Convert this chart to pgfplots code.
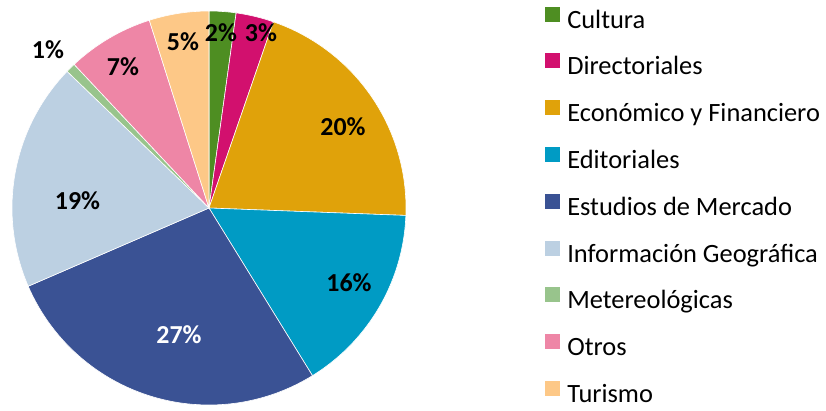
\documentclass[border=0pt]{standalone}
\usepackage{fontspec}
\setmainfont{Carlito}
\usepackage{pgfplots}
\pgfplotsset{compat=1.18}
\definecolor{cCul}{HTML}{4E8E22}
\definecolor{cDir}{HTML}{D2106E}
\definecolor{cEco}{HTML}{E0A20A}
\definecolor{cEdi}{HTML}{009BC4}
\definecolor{cEst}{HTML}{3A5294}
\definecolor{cInf}{HTML}{BCD0E2}
\definecolor{cMet}{HTML}{98C48C}
\definecolor{cOtr}{HTML}{EE86A6}
\definecolor{cTur}{HTML}{FDC887}
% shares in percent (clockwise from 12 o'clock), cumulative start values
% Cultura 2.2, Directoriales 3.1, Economico 20.3, Editoriales 15.6,
% Estudios 27.3, Informacion 18.7, Metereologicas 0.8, Otros 7.1, Turismo 4.9
\newcommand{\slice}[3]{% color, start%, value%
  \addplot[fill=#1, draw=white, line width=0.6pt, domain={90-3.6*(#2+#3)}:{90-3.6*#2}, samples=60, variable=\t]
    ({209+197*cos(\t)},{-208+197*sin(\t)}) -- (axis cs:209,-208) -- cycle;}
\begin{document}
\begin{tikzpicture}
\begin{axis}[
  x=1bp, y=1bp, xmin=0, xmax=826, ymin=-410, ymax=0,
  hide axis, clip=false,
  legend cell align=left,
  legend image code/.code={\fill[#1,draw=none] (0bp,0.5bp) rectangle (15bp,15.5bp); \path (22bp,0bp);},
  legend style={at={(0.6598,0.9840)}, anchor=north west, draw=none, fill=none,
    inner sep=0pt, outer sep=0pt, row sep=20.3bp,
    font=\fontsize{26.5}{30}\selectfont,
    nodes={inner sep=0pt, text height=17bp, text depth=5bp}},
]
\slice{cCul}{0}{2.2}
\slice{cDir}{2.2}{3.1}
\slice{cEco}{5.3}{20.3}
\slice{cEdi}{25.6}{15.6}
\slice{cEst}{41.2}{27.3}
\slice{cInf}{68.5}{18.7}
\slice{cMet}{87.2}{0.8}
\slice{cOtr}{88.0}{7.1}
\slice{cTur}{95.1}{4.9}
\legend{Cultura, Directoriales, Económico y Financiero, Editoriales, Estudios de Mercado, Información Geográfica, Metereológicas, Otros, Turismo}
\begin{scope}[every node/.style={font=\bfseries\fontsize{26}{30}\selectfont, anchor=base, inner sep=0pt}]
\node at (axis cs:221,-41.7) {2\%};
\node at (axis cs:261,-41.7) {3\%};
\node at (axis cs:343,-135) {20\%};
\node at (axis cs:349,-291.7) {16\%};
\node[text=white] at (axis cs:179,-343.3) {27\%};
\node at (axis cs:77.5,-209.3) {19\%};
\node at (axis cs:48,-58.3) {1\%};
\node at (axis cs:123,-75) {7\%};
\node at (axis cs:183,-50) {5\%};
\end{scope}
\coordinate (ll) at (axis cs:0,-410);
\coordinate (ur) at (axis cs:826,0);
\end{axis}
\pgfresetboundingbox
\path (ll) rectangle (ur);
\end{tikzpicture}
\end{document}
